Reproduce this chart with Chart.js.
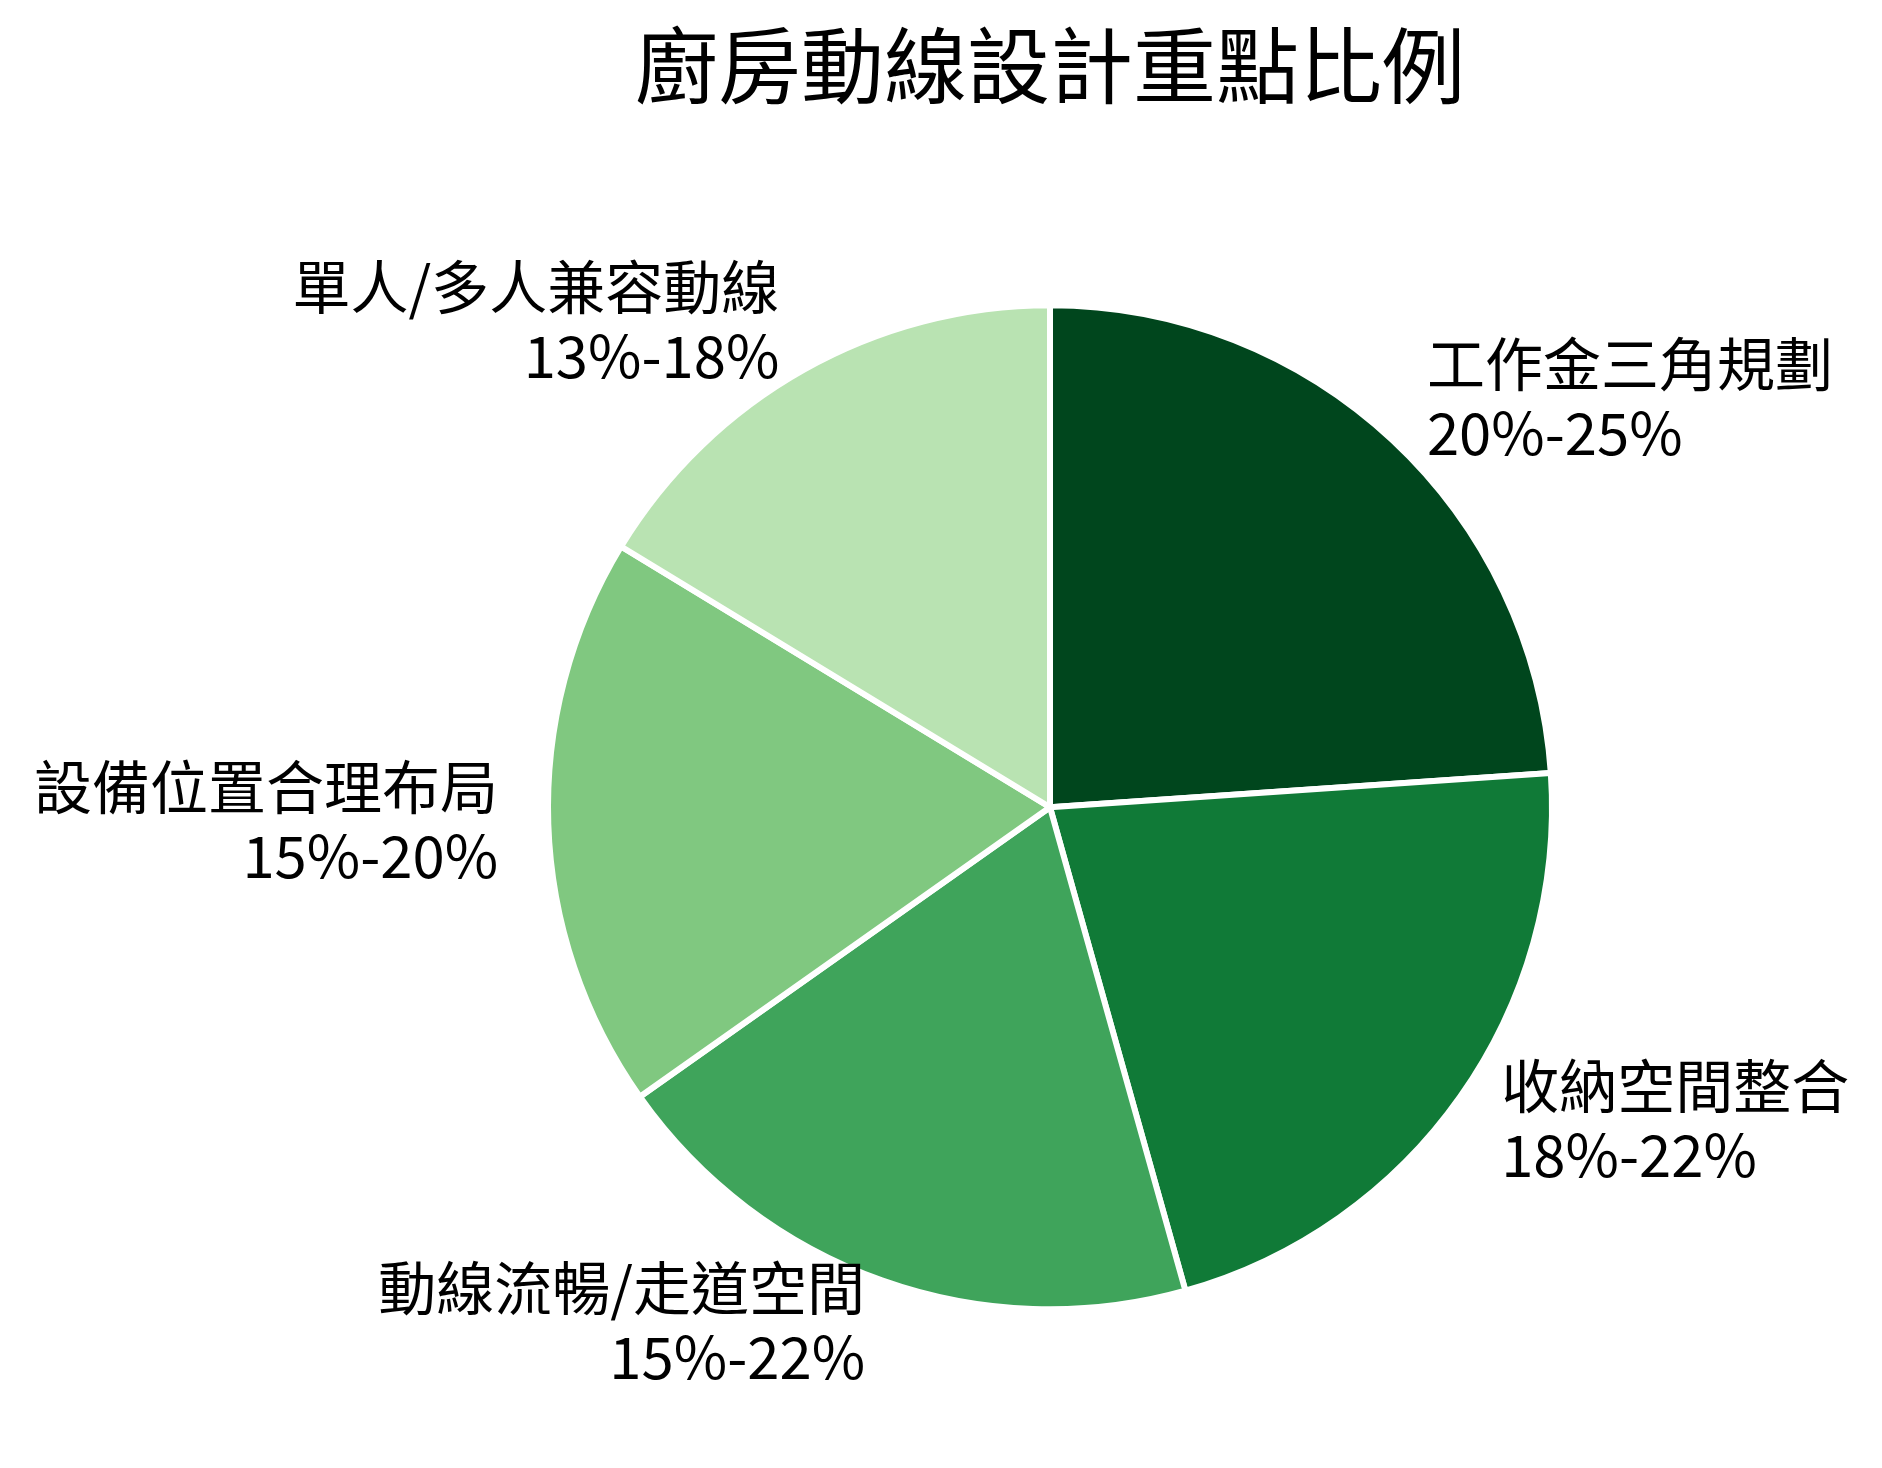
<!DOCTYPE html>
<html>
<head>
<meta charset="utf-8">
<script src="https://cdn.jsdelivr.net/npm/chart.js@4"></script>
<style>
  body { margin: 0; background: #fff; }
  #wrap { width: 1882px; height: 1468px; }
</style>
</head>
<body>
<div id="wrap"><canvas id="myChart"></canvas></div>
<script>
// slices, clockwise from 12 o'clock
const categories = ['工作金三角規劃', '收納空間整合', '動線流暢/走道空間', '設備位置合理布局', '單人/多人兼容動線'];
const ranges = ['20%-25%', '18%-22%', '15%-22%', '15%-20%', '13%-18%'];
// slice sizes
const values = [22, 20, 18, 17, 15];
const colors = ['#00461d', '#107a37', '#3fa45b', '#80c880', '#b9e3b2'];

const FONT = '"Noto Sans CJK TC", "Noto Sans CJK SC", sans-serif';

// outside labels, name + range, like the reference
const outsideLabels = {
  id: 'outsideLabels',
  afterDatasetsDraw(chart) {
    const ctx = chart.ctx;
    const meta = chart.getDatasetMeta(0);
    ctx.save();
    ctx.font = '58px ' + FONT;
    ctx.fillStyle = '#000';
    ctx.textBaseline = 'middle';
    meta.data.forEach((arc, i) => {
      const p = arc.getProps(['x', 'y', 'startAngle', 'endAngle', 'outerRadius'], true);
      const mid = (p.startAngle + p.endAngle) / 2;
      const r = p.outerRadius * 1.1;
      const lx = p.x + Math.cos(mid) * r;
      const ly = p.y + Math.sin(mid) * r - 5;
      ctx.textAlign = Math.cos(mid) >= 0 ? 'left' : 'right';
      ctx.fillText(categories[i], lx, ly - 34.5);
      ctx.fillText(ranges[i], lx, ly + 34.5);
    });
    ctx.restore();
  }
};

var ctx = document.getElementById('myChart').getContext('2d');

var chart = new Chart(ctx, {
  type: 'pie',
  data: {
    labels: categories,
    datasets: [{
      data: values,
      backgroundColor: colors,
      borderColor: '#ffffff',
      borderWidth: 6
    }]
  },
  options: {
    responsive: true,
    maintainAspectRatio: false,
    animation: false,
    devicePixelRatio: 1,
    radius: 502,
    layout: { padding: { left: 218, right: 0, top: 0, bottom: 9 } },
    plugins: {
      legend: { display: false },
      tooltip: { enabled: false },
      title: {
        display: true,
        text: '廚房動線設計重點比例',
        color: '#000',
        font: { family: FONT, size: 83, weight: 'normal', lineHeight: 1.2 },
        padding: { top: 16, bottom: 40 }
      }
    }
  },
  plugins: [outsideLabels]
});
</script>
</body>
</html>
